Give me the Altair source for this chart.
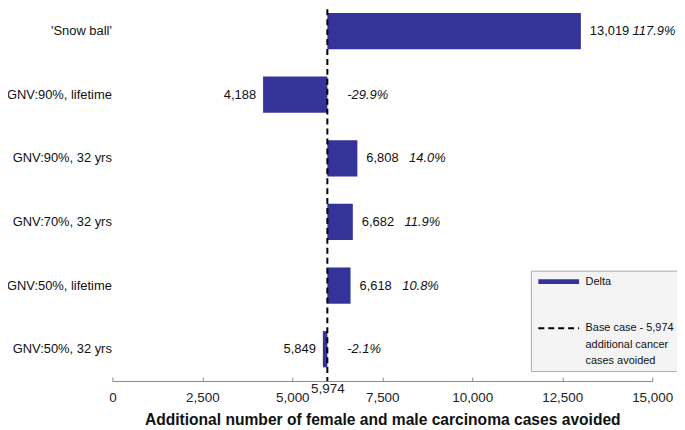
import json
import altair as alt
import pandas as pd

categories = ["'Snow ball'", "GNV:90%, lifetime", "GNV:90%, 32 yrs",
              "GNV:70%, 32 yrs", "GNV:50%, lifetime", "GNV:50%, 32 yrs"]
values = [13019, 4188, 6808, 6682, 6618, 5849]
pct_change = [117.9, -29.9, 14.0, 11.9, 10.8, -2.1]
base_case = 5974
x_ticks = [0, 2500, 5000, 7500, 10000, 12500, 15000]
legend_labels = ["Delta", "Base case - 5,974 additional cancer cases avoided"]
base_label_lines = ["Base case - 5,974", "additional cancer", "cases avoided"]
x_title = "Additional number of female and male carcinoma cases avoided"

df = pd.DataFrame({"cat": categories, "value": values, "pct": pct_change})
df["base"] = base_case
df["vlabel"] = [f"{v:,}" for v in values]
df["plabel"] = [f"{p:.1f}%" for p in pct_change]
base_df = pd.DataFrame({"base": [base_case], "k": [legend_labels[1]]})

FONT = "Liberation Sans"
BAR = "#333399"
GREY = "#8a8a8a"

x_scale = alt.Scale(domain=[0, 15000], nice=False, zero=False)
x_axis = alt.Axis(
    title=x_title, values=x_ticks + [base_case], format=",d",
    labelOverlap=False, labelFlush=False,
    ticks=False, grid=True, gridDash=[4, 3000], gridColor=GREY, gridWidth=1,
    gridOpacity={"condition": {"test": f"datum.value == {base_case}", "value": 0}, "value": 1},
    labelPadding={"condition": {"test": f"datum.value == {base_case}", "value": 1}, "value": 10},
    domainColor=GREY, domainWidth=1,
    labelFont=FONT, labelFontSize=13.5, labelColor="#222",
    titleFont=FONT, titleFontSize=15.7, titleFontWeight="bold", titleColor="#111",
    titlePadding=8,
)
y_enc = alt.Y("cat:N", sort=categories,
              scale=alt.Scale(paddingInner=0.43, paddingOuter=0.215),
              axis=alt.Axis(title=None, domain=False, ticks=False, grid=False,
                            labelPadding=1, labelFont=FONT, labelFontSize=13,
                            labelColor="#111", labelLimit=220))


def X(field):
    return alt.X(f"{field}:Q", scale=x_scale, axis=x_axis)


bars = alt.Chart(df).mark_bar(color=BAR).encode(
    x=X("value"), x2="base:Q", y=y_enc)

label_expr = ("datum.label == " + json.dumps(legend_labels[0]) + " ? "
              + json.dumps(legend_labels[0]) + " : " + json.dumps(base_label_lines))
leg = alt.Legend(orient="none", legendX=421, legendY=273, title=None,
                 symbolType="stroke", symbolSize=1681, labelOffset=4,
                 clipHeight=12,
                 labelFont=FONT, labelFontSize=11, labelColor="#111",
                 labelExpr=label_expr, fillColor="#f4f4f4", strokeColor="#aaaaaa",
                 padding=5, rowPadding=35)

rule = alt.Chart(base_df).mark_rule().encode(
    x=X("base"),
    color=alt.Color("k:N", scale=alt.Scale(domain=legend_labels, range=[BAR, "black"]), legend=leg),
    strokeDash=alt.StrokeDash("k:N", scale=alt.Scale(domain=legend_labels, range=[[1, 0], [6, 4]]), legend=leg),
    strokeWidth=alt.StrokeWidth("k:N", scale=alt.Scale(domain=legend_labels, range=[5, 2]), legend=leg),
)

txt = dict(font=FONT, fontSize=13, color="#111")
v_pos = alt.Chart(df).transform_filter("datum.value >= datum.base").mark_text(
    align="left", dx=9, **txt).encode(x=X("value"), y=y_enc, text="vlabel:N")
v_neg = alt.Chart(df).transform_filter("datum.value < datum.base").mark_text(
    align="right", dx=-7, **txt).encode(x=X("value"), y=y_enc, text="vlabel:N")
p_pos = alt.Chart(df).transform_filter("datum.value >= datum.base").mark_text(
    align="left", dx=52, fontStyle="italic", **txt).encode(x=X("value"), y=y_enc, text="plabel:N")
p_neg = alt.Chart(df).transform_filter("datum.value < datum.base").mark_text(
    align="left", dx=20, fontStyle="italic", **txt).encode(x=X("base"), y=y_enc, text="plabel:N")

chart = alt.layer(bars, rule, v_pos, v_neg, p_pos, p_neg).properties(
    width=543, height=384, autosize="none",
    padding={"left": 105, "top": -10, "right": 25, "bottom": 46},
    background="white",
).configure(
    view=alt.ViewConfig(stroke=None),
    style={"guide-label": {"lineHeight": 16.5}},
)

chart.save("out.html", embed_options={"renderer": "svg", "actions": False})
